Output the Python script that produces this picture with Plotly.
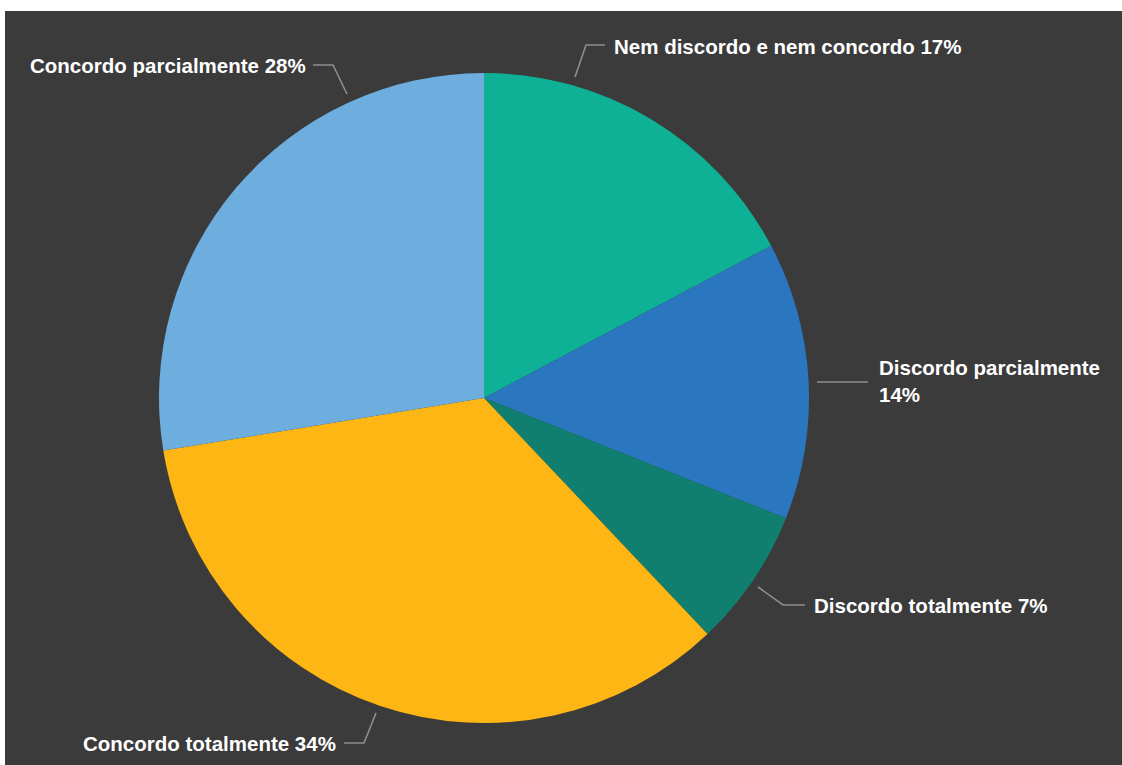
import plotly.graph_objects as go

# ---- data ----
categories = [
    "Nem discordo e nem concordo",
    "Discordo parcialmente",
    "Discordo totalmente",
    "Concordo totalmente",
    "Concordo parcialmente",
]
counts = [5, 4, 2, 10, 8]
colors = ["#0FB196", "#2A77BF", "#117F6F", "#FDB614", "#6DAEDF"]

W, H = 1122, 765
BG = "#3B3B3B"
LINE = "#8E8E8E"


def px(x):
    return x / W


def py(y):
    return 1 - y / H


# pie geometry (pixels)
CX, CY, R = 484, 398, 325

fig = go.Figure(
    go.Pie(
        labels=categories,
        values=counts,
        marker=dict(colors=colors, line=dict(width=0)),
        sort=False,
        direction="clockwise",
        rotation=0,
        textinfo="none",
        hoverinfo="skip",
        showlegend=False,
        domain=dict(x=[px(CX - R), px(CX + R)], y=[py(CY + R), py(CY - R)]),
    )
)

total = sum(counts)
pct = [round(100 * c / total) for c in counts]

# label layout: (text x, text y, anchor, leader path points) in pixels
label_layout = [
    (612, 46, "left", [(575, 77), (586, 45), (605, 45)]),
    (877, 381, "left", [(817, 382), (868, 382)]),
    (812, 605, "left", [(758, 587), (783, 605), (805, 605)]),
    (338, 743, "right", [(376, 713), (364, 743), (344, 743)]),
    (308, 65, "right", [(347, 94), (333, 65), (313, 65)]),
]

annotations = []
shapes = [
    dict(
        type="rect", xref="paper", yref="paper",
        x0=px(5), x1=1.0, y0=0.0, y1=py(11),
        fillcolor=BG, line=dict(width=0), layer="below",
    )
]
for cat, p, (tx, ty, anchor, pts) in zip(categories, pct, label_layout):
    if cat == "Discordo parcialmente":
        text = f"{cat}<br>{p}%"
    else:
        text = f"{cat} {p}%"
    annotations.append(
        dict(
            x=px(tx), y=py(ty), xref="paper", yref="paper",
            text=text, showarrow=False, xanchor=anchor, yanchor="middle",
            align="left",
            font=dict(family="Liberation Sans, Arial, sans-serif", size=20.5,
                      color="#FFFFFF", weight="bold"),
        )
    )
    path = "M " + " L ".join(f"{px(x):.5f},{py(y):.5f}" for x, y in pts)
    shapes.append(
        dict(type="path", xref="paper", yref="paper", path=path,
             line=dict(color=LINE, width=1.6), layer="above")
    )

fig.update_layout(
    width=W, height=H,
    margin=dict(l=0, r=0, t=0, b=0),
    paper_bgcolor="#FFFFFF",
    annotations=annotations,
    shapes=shapes,
)

fig.write_html("out.html")
